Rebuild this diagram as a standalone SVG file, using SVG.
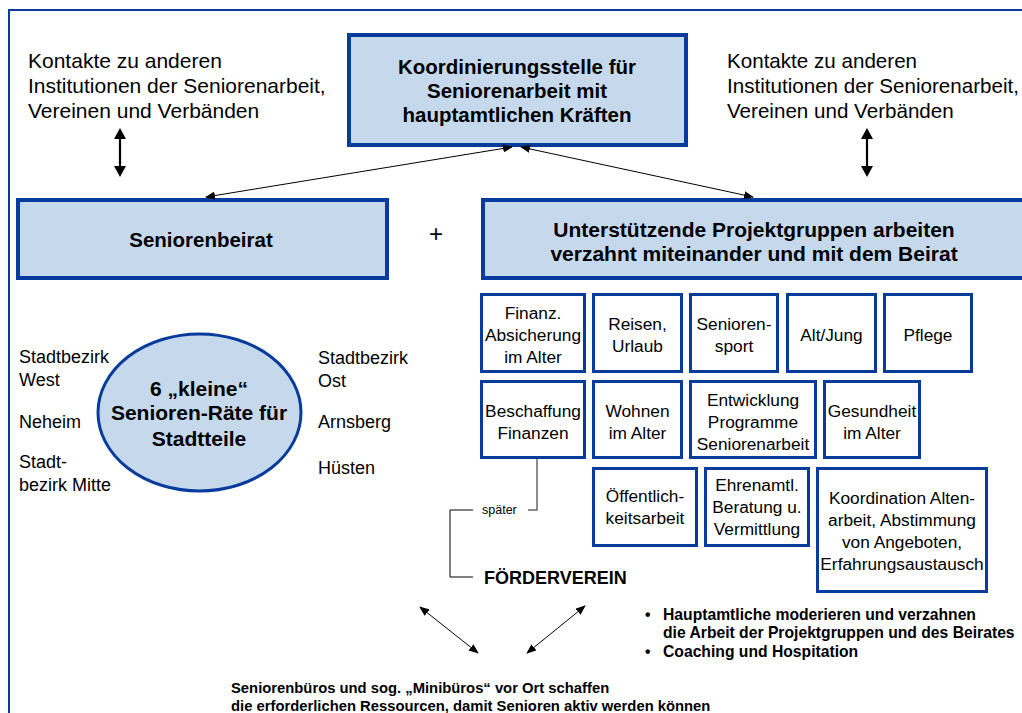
<svg xmlns="http://www.w3.org/2000/svg" width="1022" height="713" viewBox="0 0 1022 713">
<style>
text{font-family:"Liberation Sans",Arial,sans-serif;fill:#000}
.big{fill:#c6d9ec;stroke:#073c9c;stroke-width:4}
.sm{fill:#fff;stroke:#073c9c;stroke-width:3}
.t20{font-size:21px}
.t20r{font-size:20.6px}
.b20{font-size:20.5px;font-weight:bold}
.b21{font-size:21px;font-weight:bold}
.t17{font-size:17.3px}
.t18{font-size:18px}
.c{text-anchor:middle}
.blt{font-size:15.7px;font-weight:bold}
.bot{font-size:14.8px;font-weight:bold}
.thin{stroke:#000;stroke-width:1;fill:none}
.thick{stroke:#000;stroke-width:2.2;fill:none}
</style>
<defs>
<marker id="ah" markerUnits="userSpaceOnUse" markerWidth="12" markerHeight="12" refX="8" refY="6" orient="auto-start-reverse" viewBox="0 0 11 12">
<path d="M0,0 L11,6 L0,12 z" fill="#000"/>
</marker>
<marker id="as" markerUnits="userSpaceOnUse" markerWidth="10" markerHeight="8" refX="9" refY="4" orient="auto-start-reverse" viewBox="0 0 10 8">
<path d="M0,0 L10,4 L0,8 z" fill="#000"/>
</marker>
</defs>
<rect x="9" y="10" width="1100" height="800" fill="none" stroke="#0a3aa0" stroke-width="2"/>

<g id="kontakte-links">
<text class="t20" x="28" y="68">Kontakte zu anderen</text>
<text class="t20" x="28" y="93">Institutionen der Seniorenarbeit,</text>
<text class="t20" x="28" y="118">Vereinen und Verbänden</text>
</g>
<g id="kontakte-rechts">
<text class="t20r" x="727" y="68">Kontakte zu anderen</text>
<text class="t20r" x="727" y="93">Institutionen der Seniorenarbeit,</text>
<text class="t20r" x="727" y="118">Vereinen und Verbänden</text>
</g>
<g id="koordinierungsstelle">
<rect class="big" x="349" y="35" width="337" height="110"/>
<text class="b20 c" x="517" y="74">Koordinierungsstelle für</text>
<text class="b20 c" x="517" y="98">Seniorenarbeit mit</text>
<text class="b20 c" x="517" y="122">hauptamtlichen Kräften</text>
</g>
<g id="seniorenbeirat">
<rect class="big" x="18" y="200" width="369" height="78"/>
<text class="b20 c" x="201" y="247">Seniorenbeirat</text>
</g>
<g id="plus"><text class="c" x="436" y="242" style="font-size:24px">+</text></g>
<g id="projektgruppen">
<rect class="big" x="483" y="200" width="600" height="78"/>
<text class="b21 c" x="754" y="237">Unterstützende Projektgruppen arbeiten</text>
<text class="b21 c" x="754" y="261">verzahnt miteinander und mit dem Beirat</text>
</g>
<g id="seniorenraete">
<ellipse cx="199.5" cy="412.5" rx="101.5" ry="78.5" fill="#c6d9ec" stroke="#073c9c" stroke-width="3"/>
<text class="b21 c" x="199" y="396">6 „kleine“</text>
<text class="b21 c" x="199" y="420">Senioren-Räte für</text>
<text class="b21 c" x="199" y="446">Stadtteile</text>
</g>
<g id="bezirke">
<text class="t18" x="19" y="363">Stadtbezirk</text>
<text class="t18" x="19" y="386">West</text>
<text class="t18" x="19" y="428">Neheim</text>
<text class="t18" x="19" y="468">Stadt-</text>
<text class="t18" x="19" y="491">bezirk Mitte</text>
<text class="t18" x="318" y="364">Stadtbezirk</text>
<text class="t18" x="318" y="387">Ost</text>
<text class="t18" x="318" y="428">Arnsberg</text>
<text class="t18" x="318" y="474">Hüsten</text>
</g>

<g id="g-finanz"><rect class="sm" x="481.5" y="294.5" width="103" height="77"/>
<text class="t17 c" x="533" y="319">Finanz.</text><text class="t17 c" x="533" y="341">Absicherung</text><text class="t17 c" x="533" y="363">im Alter</text></g>
<g id="g-reisen"><rect class="sm" x="593.5" y="294.5" width="88" height="77"/>
<text class="t17 c" x="637.5" y="330">Reisen,</text><text class="t17 c" x="637.5" y="352">Urlaub</text></g>
<g id="g-sport"><rect class="sm" x="690.5" y="294.5" width="87" height="77"/>
<text class="t17 c" x="734" y="330">Senioren-</text><text class="t17 c" x="734" y="352">sport</text></g>
<g id="g-altjung"><rect class="sm" x="787.5" y="294.5" width="88" height="77"/>
<text class="t17 c" x="831.5" y="341">Alt/Jung</text></g>
<g id="g-pflege"><rect class="sm" x="884.5" y="294.5" width="87" height="77"/>
<text class="t17 c" x="928" y="341">Pflege</text></g>

<g id="g-beschaffung"><rect class="sm" x="481.5" y="381.5" width="103" height="76"/>
<text class="t17 c" x="533" y="417">Beschaffung</text><text class="t17 c" x="533" y="439">Finanzen</text></g>
<g id="g-wohnen"><rect class="sm" x="593.5" y="381.5" width="88" height="76"/>
<text class="t17 c" x="637.5" y="417">Wohnen</text><text class="t17 c" x="637.5" y="439">im Alter</text></g>
<g id="g-entwicklung"><rect class="sm" x="690.5" y="381.5" width="125" height="76"/>
<text class="t17 c" x="753" y="406">Entwicklung</text><text class="t17 c" x="753" y="428">Programme</text><text class="t17 c" x="753" y="450">Seniorenarbeit</text></g>
<g id="g-gesundheit"><rect class="sm" x="824.5" y="381.5" width="95" height="76"/>
<text class="t17 c" x="872" y="417">Gesundheit</text><text class="t17 c" x="872" y="439">im Alter</text></g>

<g id="g-oeffentlich"><rect class="sm" x="593.5" y="468.5" width="103" height="77"/>
<text class="t17 c" x="645" y="502">Öffentlich-</text><text class="t17 c" x="645" y="524">keitsarbeit</text></g>
<g id="g-ehrenamt"><rect class="sm" x="705.5" y="468.5" width="103" height="77"/>
<text class="t17 c" x="757" y="491">Ehrenamtl.</text><text class="t17 c" x="757" y="513">Beratung u.</text><text class="t17 c" x="757" y="535">Vermittlung</text></g>
<g id="g-koordination"><rect class="sm" x="817.5" y="468.5" width="169" height="123"/>
<text class="t17 c" x="902" y="504">Koordination Alten-</text><text class="t17 c" x="902" y="526">arbeit, Abstimmung</text><text class="t17 c" x="902" y="548">von Angeboten,</text><text class="t17 c" x="902" y="570">Erfahrungsaustausch</text></g>

<g id="foerderverein">
<text x="482" y="514" style="font-size:12.5px">später</text>
<text x="484" y="584" style="font-size:18px;font-weight:bold">FÖRDERVEREIN</text>
</g>

<g id="hinweise">
<text class="blt" x="645" y="620">•</text>
<text class="blt" x="663" y="620">Hauptamtliche moderieren und verzahnen</text>
<text class="blt" x="663" y="638">die Arbeit der Projektgruppen und des Beirates</text>
<text class="blt" x="645" y="657">•</text>
<text class="blt" x="663" y="657">Coaching und Hospitation</text>
</g>
<g id="seniorenbueros">
<text class="bot" x="231" y="693">Seniorenbüros und sog. „Minibüros“ vor Ort schaffen</text>
<text class="bot" x="231" y="711">die erforderlichen Ressourcen, damit Senioren aktiv werden können</text>
</g>

<g id="connectors">
<path class="thick" d="M120,131 L120,174" marker-start="url(#ah)" marker-end="url(#ah)"/>
<path class="thick" d="M867,131 L867,174" marker-start="url(#ah)" marker-end="url(#ah)"/>
<path class="thin" d="M512,147 L206,197" marker-start="url(#as)" marker-end="url(#as)"/>
<path class="thin" d="M521,147 L753,197" marker-start="url(#as)" marker-end="url(#as)"/>
<path d="M537,459 L537,510 L528,510" fill="none" stroke="#666" stroke-width="1.5"/>
<path class="thin" d="M473,510 L450,510 L450,577 L473,577"/>
<path class="thin" d="M420,607 L478,653" marker-start="url(#as)" marker-end="url(#as)"/>
<path class="thin" d="M585,606 L527,653" marker-start="url(#as)" marker-end="url(#as)"/>
</g>
</svg>
